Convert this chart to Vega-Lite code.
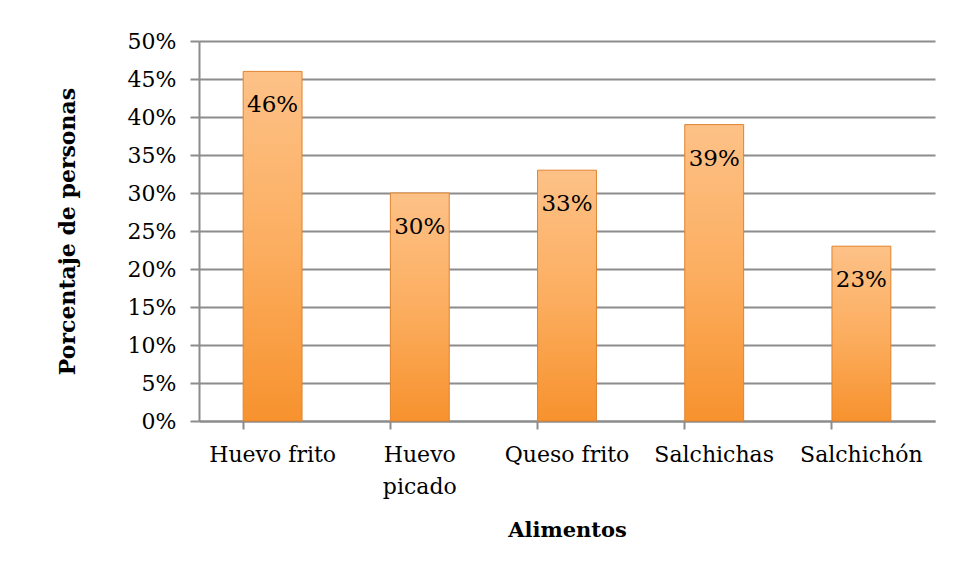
{
  "$schema": "https://vega.github.io/schema/vega-lite/v6.json",
  "autosize": {"type": "none"},
  "width": 736,
  "height": 380,
  "padding": {"left": 199, "top": 41, "right": 25, "bottom": 158},
  "background": "white",
  "config": {
    "font": "DejaVu Serif",
    "view": {"stroke": null}
  },
  "data": {
    "values": [
      {"alimento": "Huevo frito", "pct": 0.46},
      {"alimento": "Huevo picado", "pct": 0.30},
      {"alimento": "Queso frito", "pct": 0.33},
      {"alimento": "Salchichas", "pct": 0.39},
      {"alimento": "Salchichón", "pct": 0.23}
    ]
  },
  "encoding": {
    "x": {
      "field": "alimento",
      "type": "nominal",
      "sort": null,
      "scale": {"paddingInner": 0.6, "paddingOuter": 0.3},
      "axis": {
        "title": "Alimentos",
        "titleFont": "DejaVu Serif",
        "titleFontSize": 21,
        "titleFontWeight": "bold",
        "titleColor": "#000000",
        "titlePadding": 22,
        "labelAngle": 0,
        "labelFontSize": 22,
        "labelColor": "#000000",
        "labelPadding": 15,
        "labelLineHeight": 32,
        "labelExpr": "datum.label == 'Huevo picado' ? ['Huevo', 'picado'] : datum.label",
        "bandPosition": 0,
        "domainColor": "#8c8c8c",
        "domainWidth": 2,
        "tickColor": "#8c8c8c",
        "tickWidth": 2,
        "tickSize": 8,
        "grid": false
      }
    },
    "y": {
      "field": "pct",
      "type": "quantitative",
      "scale": {"domain": [0, 0.5]},
      "axis": {
        "title": "Porcentaje de personas",
        "titleFont": "DejaVu Serif",
        "titleFontSize": 22,
        "titleFontWeight": "bold",
        "titleColor": "#000000",
        "titlePadding": 48,
        "format": ".0%",
        "values": [0, 0.05, 0.1, 0.15, 0.2, 0.25, 0.3, 0.35, 0.4, 0.45, 0.5],
        "labelFontSize": 22,
        "labelColor": "#000000",
        "labelPadding": 14,
        "domainColor": "#8c8c8c",
        "domainWidth": 2,
        "tickColor": "#8c8c8c",
        "tickWidth": 2,
        "tickSize": 9,
        "grid": true,
        "gridColor": "#8c8c8c",
        "gridWidth": 2
      }
    }
  },
  "layer": [
    {
      "mark": {
        "type": "bar",
        "stroke": "#e0832e",
        "strokeWidth": 1,
        "color": {
          "gradient": "linear",
          "x1": 0, "y1": 0, "x2": 0, "y2": 1,
          "stops": [
            {"offset": 0, "color": "#fdc187"},
            {"offset": 0.5, "color": "#fcae60"},
            {"offset": 1, "color": "#f7922e"}
          ]
        }
      }
    },
    {
      "mark": {
        "type": "text",
        "baseline": "middle",
        "dy": 34,
        "fontSize": 23,
        "color": "#000000"
      },
      "encoding": {
        "text": {"field": "pct", "type": "quantitative", "format": ".0%"}
      }
    }
  ]
}
